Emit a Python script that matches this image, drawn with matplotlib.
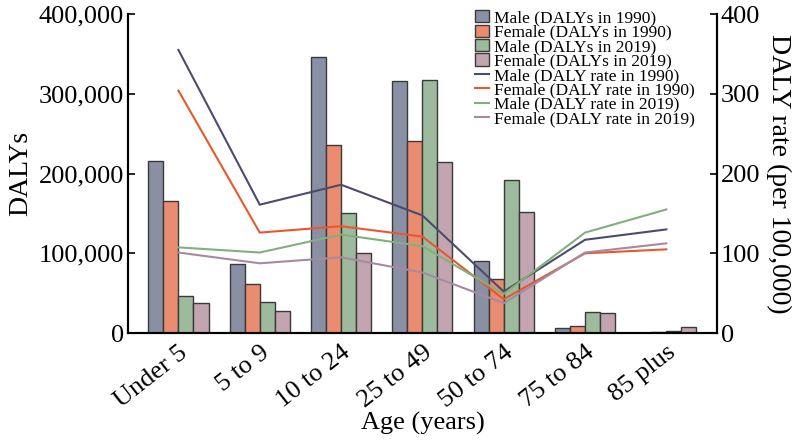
import matplotlib.pyplot as plt
import numpy as np
from matplotlib.ticker import FuncFormatter

plt.rcParams['font.family'] = ['Liberation Serif', 'DejaVu Serif']

ages = ['Under 5', '5 to 9', '10 to 24', '25 to 49', '50 to 74', '75 to 84', '85 plus']

# DALYs (bars)
male_dalys_1990 = [216000, 86000, 346000, 316000, 90000, 6000, 600]
female_dalys_1990 = [165000, 62000, 236000, 241000, 67500, 8500, 1200]
male_dalys_2019 = [46000, 39000, 150000, 317000, 192000, 26000, 3000]
female_dalys_2019 = [37500, 27500, 101000, 215000, 152000, 25000, 7000]

# DALY rate per 100,000 (lines)
male_rate_1990 = [355, 161, 186, 147.5, 52, 117, 130]
female_rate_1990 = [304, 126, 134, 121, 42.5, 100, 105]
male_rate_2019 = [107.5, 101, 123.5, 109, 49, 126, 155]
female_rate_2019 = [101, 87.5, 95, 76, 37.5, 101, 112.5]

bar_colors = ['#8a90a4', '#ea8c6f', '#9dba9c', '#c3a5b1']
line_colors = ['#4d4b6c', '#e8582f', '#80b07c', '#a68aa0']

fig = plt.figure(figsize=(8, 4.4), dpi=100)
ax = fig.add_axes([0.16, 0.243, 0.736, 0.725])
ax2 = ax.twinx()

x = np.arange(len(ages))
w = 0.185
bar_series = [
    ('Male (DALYs in 1990)', male_dalys_1990),
    ('Female (DALYs in 1990)', female_dalys_1990),
    ('Male (DALYs in 2019)', male_dalys_2019),
    ('Female (DALYs in 2019)', female_dalys_2019),
]
handles = []
for i, (label, vals) in enumerate(bar_series):
    b = ax.bar(x + (i - 1.5) * w, vals, width=w, color=bar_colors[i],
               edgecolor='#3a3a3a', linewidth=1.0, label=label, zorder=2)
    handles.append(b)

line_series = [
    ('Male (DALY rate in 1990)', male_rate_1990),
    ('Female (DALY rate in 1990)', female_rate_1990),
    ('Male (DALY rate in 2019)', male_rate_2019),
    ('Female (DALY rate in 2019)', female_rate_2019),
]
for i, (label, vals) in enumerate(line_series):
    ln, = ax2.plot(x, vals, color=line_colors[i], linewidth=1.5, label=label)
    handles.append(ln)

ax.set_xlim(-0.62, 6.62)
ax.set_ylim(0, 400000)
ax2.set_ylim(0, 400)
ax.set_yticks([0, 100000, 200000, 300000, 400000])
ax2.set_yticks([0, 100, 200, 300, 400])
ax.yaxis.set_major_formatter(FuncFormatter(lambda v, p: f'{int(v):,}'))

ax.set_xticks(x)
ax.set_xticklabels(ages, rotation=38, ha='right', rotation_mode='anchor', fontsize=19)
ax.tick_params(axis='x', length=0, pad=6)
ax.tick_params(axis='y', direction='in', length=5, width=1.2, labelsize=19, pad=3)
ax2.tick_params(axis='y', direction='in', length=5, width=1.2, labelsize=19, pad=3)

for a in (ax, ax2):
    a.spines['top'].set_visible(False)
    for s in ('left', 'right', 'bottom'):
        a.spines[s].set_linewidth(1.5)

ax.set_ylabel('DALYs', fontsize=20, labelpad=4)
ax2.set_ylabel('DALY rate (per 100,000)', fontsize=20, rotation=-90, labelpad=22)
ax.set_xlabel('Age (years)', fontsize=19, labelpad=0)

ax2.legend(handles=handles, loc='upper left', bbox_to_anchor=(0.572, 1.045), frameon=False,
           fontsize=12.5, labelspacing=-0.1, handlelength=0.8, handletextpad=0.3,
           borderaxespad=0.2)

fig.savefig('out.png', dpi=100)
